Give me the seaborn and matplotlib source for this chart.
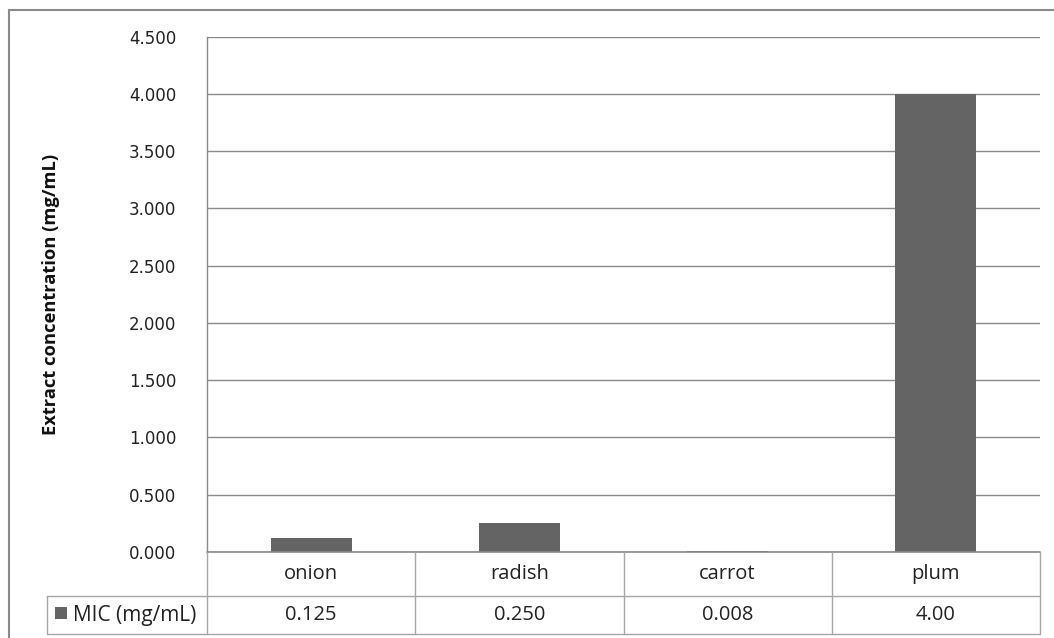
import numpy as np
import pandas as pd
import seaborn as sns
import matplotlib.pyplot as plt
from matplotlib.patches import Rectangle
from matplotlib.lines import Line2D
from matplotlib.transforms import blended_transform_factory

# Minimum inhibitory concentration of each extract
categories = ["onion", "radish", "carrot", "plum"]
mic_values = [0.125, 0.250, 0.008, 4.00]
mic_labels = ["0.125", "0.250", "0.008", "4.00"]
series_name = "MIC (mg/mL)"
y_label = "Extract concentration (mg/mL)"
y_ticks = [0.0, 0.5, 1.0, 1.5, 2.0, 2.5, 3.0, 3.5, 4.0, 4.5]

BAR_COLOR = "#646464"
GRID_COLOR = "#8a8a8a"
TABLE_COLOR = "#a6a6a6"
TEXT_FONT = ["Open Sans", "DejaVu Sans"]

sns.set_theme(style="white")
plt.rcParams["font.family"] = ["DejaVu Sans"]

W, H = 1054, 638
fig = plt.figure(figsize=(W / 100, H / 100), dpi=100)
fig.patch.set_facecolor("white")


def fx(px):
    return px / W


def fy(py):
    return 1 - py / H


# plot area in pixel terms
left, right, top, bottom = 207, 1040, 36.6, 552
ax = fig.add_axes([fx(left), fy(bottom), fx(right - left), (bottom - top) / H])

df = pd.DataFrame({"category": categories, "mic": mic_values})
sns.barplot(data=df, x="category", y="mic", color=BAR_COLOR, saturation=1,
            width=0.39, linewidth=0, edgecolor="none", ax=ax, zorder=3)

ax.set_xlim(-0.5, len(categories) - 0.5)
ax.set_ylim(0, 4.5)
ax.set_yticks(y_ticks)
ax.set_yticklabels([f"{t:.3f}" for t in y_ticks], fontsize=12, color="#222222")
ax.tick_params(axis="y", length=0, pad=22)
ax.tick_params(axis="x", bottom=False, labelbottom=False)
ax.set_xlabel("")
ax.set_ylabel("")
ax.yaxis.grid(True, color=GRID_COLOR, lw=1)
ax.set_axisbelow(True)
for side in ["top", "right", "bottom"]:
    ax.spines[side].set_visible(False)
ax.spines["left"].set_color(GRID_COLOR)
ax.spines["left"].set_linewidth(1)
# category axis line sits over the bar bases
ax.axhline(0, color=GRID_COLOR, lw=1.2, zorder=4, clip_on=False)

fig.text(fx(51), fy(294), y_label, rotation=90, ha="center", va="center",
         fontsize=13.2, fontweight="bold", family=TEXT_FONT, color="#111111")

# data table under the axis
blend = blended_transform_factory(ax.transData, fig.transFigure)
row1, row2, row3 = 552, 596, 634
legend_left = 47

# horizontal rules
for py in (row2, row3):
    fig.add_artist(Line2D([fx(legend_left), fx(right)], [fy(py), fy(py)],
                          color=TABLE_COLOR, lw=1))
# left edge of the legend cell
fig.add_artist(Line2D([fx(legend_left), fx(legend_left)], [fy(row2), fy(row3)],
                      color=TABLE_COLOR, lw=1))
# column separators
for i in range(len(categories) + 1):
    xb = i - 0.5
    fig.add_artist(Line2D([xb, xb], [fy(row1), fy(row3)], transform=blend,
                          color=TABLE_COLOR, lw=1))

for i, (cat, lab) in enumerate(zip(categories, mic_labels)):
    fig.text(i, fy((row1 + row2) / 2), cat, transform=blend, ha="center",
             va="center", fontsize=14.5, family=TEXT_FONT, color="#222222")
    fig.text(i, fy((row2 + row3) / 2), lab, transform=blend, ha="center",
             va="center", fontsize=14.5, family=TEXT_FONT, color="#222222")

# legend key for the series
fig.add_artist(Rectangle((fx(55), fy(619)), fx(12), 12 / H, facecolor=BAR_COLOR,
                         edgecolor="none"))
fig.text(fx(73), fy((row2 + row3) / 2), series_name, ha="left", va="center",
         fontsize=15, family=TEXT_FONT, color="#222222")

# chart frame
fig.add_artist(Rectangle((fx(9), fy(H + 20)), fx(W + 20), (H + 10) / H,
                         facecolor="none", edgecolor="#8a8a8a", lw=1.5))

fig.savefig("out.png", dpi=100, facecolor="white")
